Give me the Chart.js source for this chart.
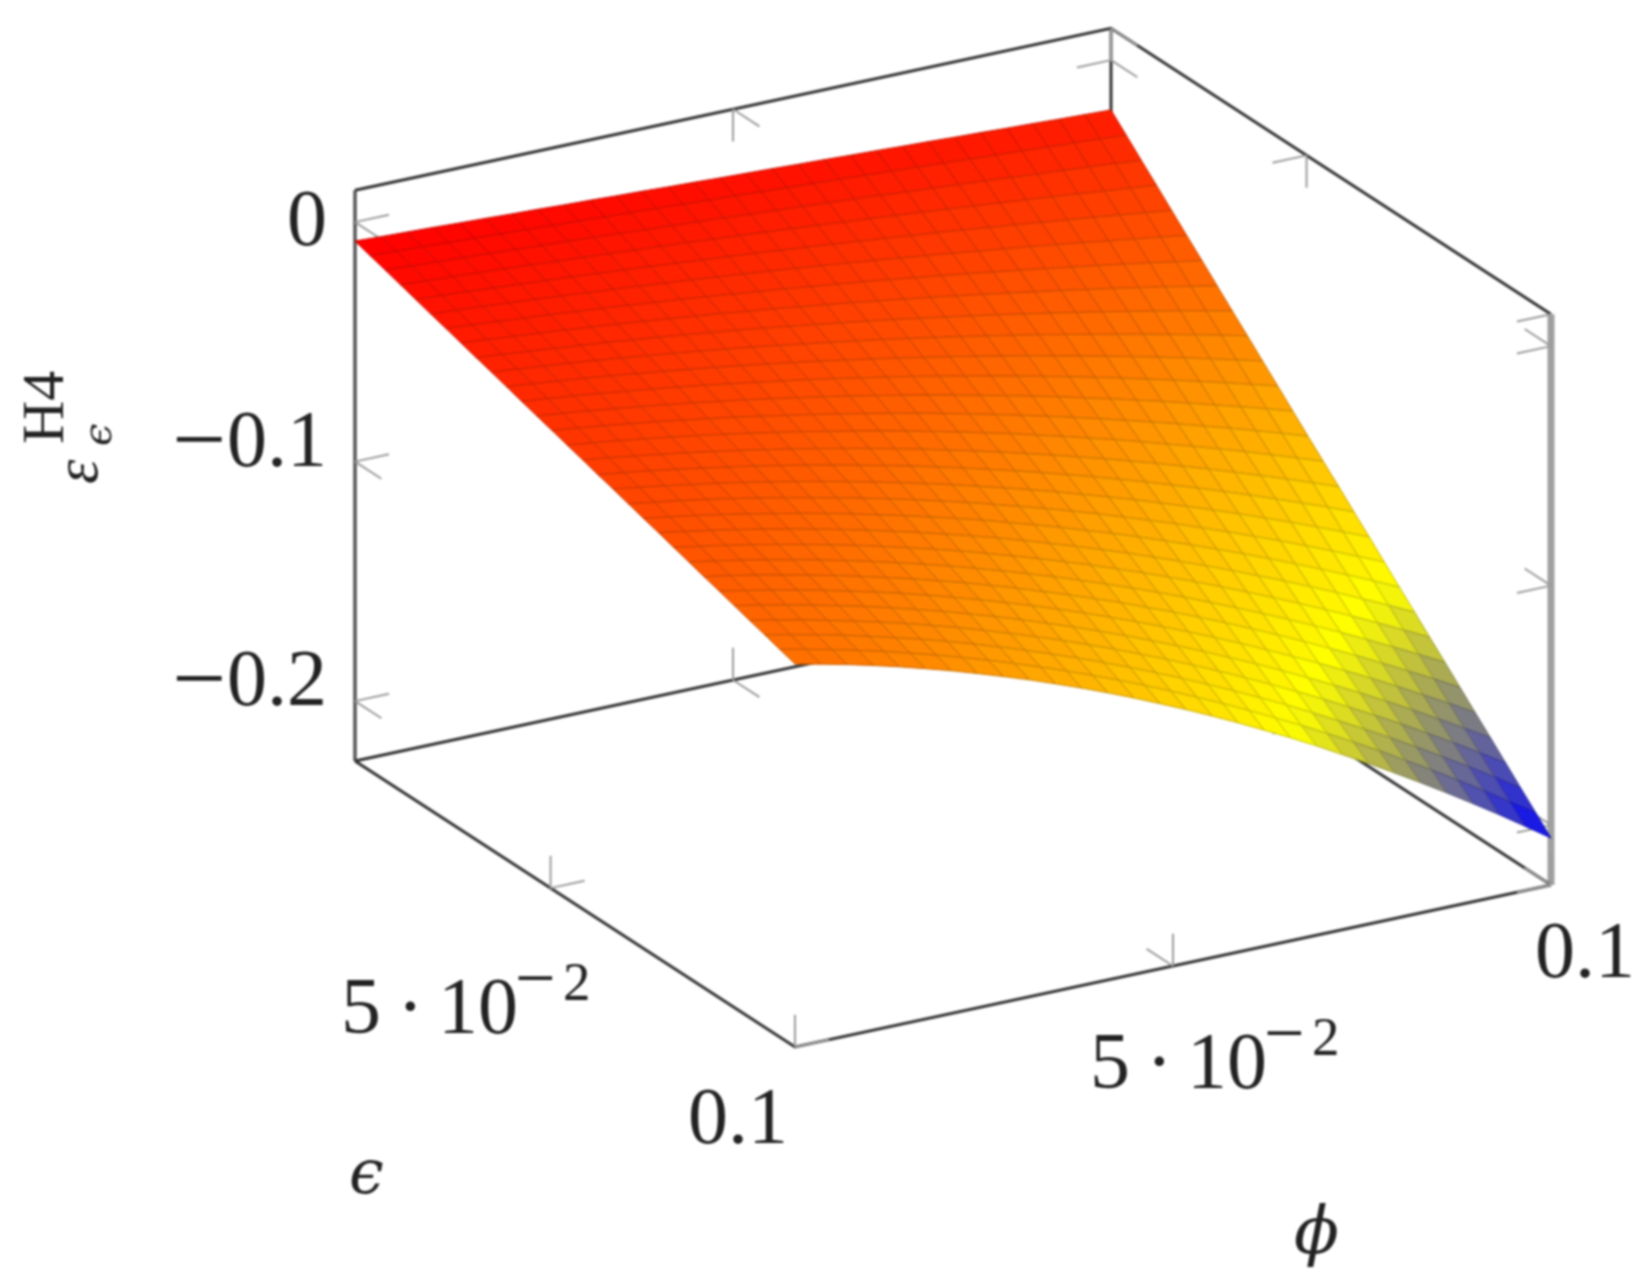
<!DOCTYPE html>
<html>
<head>
<meta charset="utf-8">
<title>H4 surface</title>
<script src="https://cdn.jsdelivr.net/npm/chart.js@4/dist/chart.umd.js"></script>
<style>
html, body { margin: 0; padding: 0; background: #fff; overflow: hidden; }
canvas { display: block; filter: blur(1.1px); }
</style>
</head>
<body>
<canvas id="surfaceChart" width="1640" height="1286"></canvas>
<script>
"use strict";
// sample positions, 30 per axis
const phiValues = [0, .00345, .0069, .01034, .01379, .01724, .02069, .02414, .02759, .03103, .03448, .03793, .04138, .04483, .04828,
    .05172, .05517, .05862, .06207, .06552, .06897, .07241, .07586, .07931, .08276, .08621, .08966, .0931, .09655, .1];
const epsValues = [.01, .0131, .0162, .0193, .0224, .0255, .0286, .0317, .0348, .0379, .041, .0441, .0472, .0503, .0534,
    .0566, .0597, .0628, .0659, .069, .0721, .0752, .0783, .0814, .0845, .0876, .0907, .0938, .0969, .1];
// surface height in units of 1e-4, one row per phi, one column per eps
const surfaceRows = [
    [-79,-99,-118,-138,-158,-178,-197,-217,-237,-256,-276,-296,-316,-335,-355,-375,-395,-414,-434,-454,-473,-493,-513,-533,-552,-572,-592,-611,-631,-651],
    [-84,-104,-124,-145,-165,-185,-206,-226,-247,-267,-287,-308,-328,-349,-369,-389,-410,-430,-451,-471,-491,-512,-532,-552,-573,-593,-614,-634,-654,-675],
    [-88,-109,-130,-151,-172,-193,-215,-236,-257,-278,-299,-320,-341,-362,-383,-405,-426,-447,-468,-489,-510,-531,-552,-573,-595,-616,-637,-658,-679,-700],
    [-92,-114,-136,-158,-180,-202,-224,-246,-268,-289,-311,-333,-355,-377,-399,-421,-443,-465,-486,-508,-530,-552,-574,-596,-618,-640,-662,-683,-705,-727],
    [-97,-120,-142,-165,-188,-210,-233,-256,-279,-301,-324,-347,-370,-392,-415,-438,-461,-483,-506,-529,-551,-574,-597,-620,-642,-665,-688,-711,-733,-756],
    [-101,-125,-149,-172,-196,-220,-243,-267,-290,-314,-338,-361,-385,-409,-432,-456,-480,-503,-527,-551,-574,-598,-621,-645,-669,-692,-716,-740,-763,-787],
    [-106,-130,-155,-180,-204,-229,-253,-278,-303,-327,-352,-376,-401,-426,-450,-475,-499,-524,-549,-573,-598,-622,-647,-672,-696,-721,-745,-770,-795,-819],
    [-110,-136,-161,-187,-213,-238,-264,-290,-315,-341,-367,-392,-418,-443,-469,-495,-520,-546,-572,-597,-623,-648,-674,-700,-725,-751,-777,-802,-828,-854],
    [-115,-141,-168,-195,-222,-248,-275,-302,-328,-355,-382,-409,-435,-462,-489,-516,-542,-569,-596,-622,-649,-676,-703,-729,-756,-783,-809,-836,-863,-890],
    [-119,-147,-175,-203,-231,-259,-286,-314,-342,-370,-398,-426,-454,-482,-509,-537,-565,-593,-621,-649,-677,-705,-732,-760,-788,-816,-844,-872,-900,-927],
    [-124,-153,-182,-211,-240,-269,-298,-327,-356,-385,-414,-444,-473,-502,-531,-560,-589,-618,-647,-676,-705,-734,-763,-792,-822,-851,-880,-909,-938,-967],
    [-128,-158,-189,-219,-250,-280,-310,-341,-371,-401,-432,-462,-492,-523,-553,-583,-614,-644,-674,-705,-735,-765,-796,-826,-857,-887,-917,-948,-978,-1008],
    [-133,-164,-196,-228,-259,-291,-323,-354,-386,-418,-449,-481,-513,-544,-576,-608,-639,-671,-703,-734,-766,-798,-830,-861,-893,-925,-956,-988,-1020,-1051],
    [-137,-170,-203,-236,-269,-302,-335,-369,-402,-435,-468,-501,-534,-567,-600,-633,-666,-699,-732,-765,-798,-832,-865,-898,-931,-964,-997,-1030,-1063,-1096],
    [-142,-176,-211,-245,-280,-314,-349,-383,-418,-452,-487,-521,-556,-590,-625,-660,-694,-729,-763,-798,-832,-867,-901,-936,-970,-1005,-1039,-1074,-1108,-1143],
    [-146,-182,-218,-254,-290,-326,-362,-398,-434,-470,-506,-542,-578,-614,-650,-687,-723,-759,-795,-831,-867,-903,-939,-975,-1011,-1047,-1083,-1119,-1155,-1191],
    [-150,-188,-226,-263,-301,-338,-376,-414,-451,-489,-527,-564,-602,-639,-677,-715,-752,-790,-827,-865,-903,-940,-978,-1015,-1053,-1091,-1128,-1166,-1204,-1241],
    [-155,-194,-233,-273,-312,-351,-390,-430,-469,-508,-547,-587,-626,-665,-704,-744,-783,-822,-861,-901,-940,-979,-1018,-1058,-1097,-1136,-1175,-1215,-1254,-1293],
    [-159,-200,-241,-282,-323,-364,-405,-446,-487,-528,-569,-610,-651,-692,-733,-774,-815,-856,-896,-937,-978,-1019,-1060,-1101,-1142,-1183,-1224,-1265,-1306,-1347],
    [-164,-207,-249,-292,-335,-377,-420,-463,-506,-548,-591,-634,-676,-719,-762,-805,-847,-890,-933,-975,-1018,-1061,-1103,-1146,-1189,-1232,-1274,-1317,-1360,-1402],
    [-168,-213,-257,-302,-346,-391,-435,-480,-524,-569,-613,-658,-702,-747,-792,-836,-881,-925,-970,-1014,-1059,-1103,-1148,-1192,-1237,-1281,-1326,-1370,-1415,-1459],
    [-173,-219,-266,-312,-358,-405,-451,-498,-544,-590,-637,-683,-730,-776,-822,-869,-915,-962,-1008,-1055,-1101,-1147,-1194,-1240,-1287,-1333,-1379,-1426,-1472,-1519],
    [-177,-226,-274,-322,-371,-419,-467,-516,-564,-612,-661,-709,-757,-806,-854,-902,-951,-999,-1048,-1096,-1144,-1193,-1241,-1289,-1338,-1386,-1434,-1483,-1531,-1579],
    [-182,-232,-282,-333,-383,-433,-484,-534,-584,-635,-685,-735,-786,-836,-887,-937,-987,-1038,-1088,-1138,-1189,-1239,-1289,-1340,-1390,-1440,-1491,-1541,-1591,-1642],
    [-186,-239,-291,-343,-396,-448,-501,-553,-605,-658,-710,-763,-815,-867,-920,-972,-1025,-1077,-1130,-1182,-1234,-1287,-1339,-1392,-1444,-1496,-1549,-1601,-1654,-1706],
    [-191,-245,-300,-354,-409,-463,-518,-572,-627,-681,-736,-790,-845,-900,-954,-1009,-1063,-1118,-1172,-1227,-1281,-1336,-1390,-1445,-1499,-1554,-1608,-1663,-1717,-1772],
    [-195,-252,-308,-365,-422,-479,-535,-592,-649,-705,-762,-819,-876,-932,-989,-1046,-1103,-1159,-1216,-1273,-1329,-1386,-1443,-1500,-1556,-1613,-1670,-1726,-1783,-1840],
    [-200,-258,-317,-376,-435,-494,-553,-612,-671,-730,-789,-848,-907,-966,-1025,-1084,-1143,-1202,-1261,-1320,-1379,-1438,-1497,-1556,-1615,-1674,-1732,-1791,-1850,-1909],
    [-204,-265,-326,-388,-449,-510,-572,-633,-694,-755,-817,-878,-939,-1000,-1062,-1123,-1184,-1246,-1307,-1368,-1429,-1491,-1552,-1613,-1674,-1736,-1797,-1858,-1920,-1981],
    [-208,-272,-336,-399,-463,-527,-590,-654,-718,-781,-845,-908,-972,-1036,-1099,-1163,-1227,-1290,-1354,-1418,-1481,-1545,-1608,-1672,-1736,-1799,-1863,-1927,-1990,-2054]
];
const phiTicks = [0.05, 0.1];
const epsTicks = [0.05, 0.1];
const zTicks = [0, -0.1, -0.2];
const phiRange = [0, 0.1];
const epsRange = [0.01, 0.1];
const zRange = [-0.225, 0.0133];

// pgfplots colormap/hot
const hotStops = [[0, 0, 255], [255, 255, 0], [255, 128, 0], [255, 0, 0]];

function project(phi, eps, z) {
    let t = (phi - phiRange[0]) / (phiRange[1] - phiRange[0]);
    let s = (eps - epsRange[0]) / (epsRange[1] - epsRange[0]);
    return {
        x: 355 + 756 * t + 440 * s,
        y: 761 - 162 * t + 286 * s - (z - zRange[0]) * 2395
    };
}

function hotColor(f) {
    let pos = Math.min(Math.max(f, 0), 1) * 3;
    let k = Math.min(Math.floor(pos), 2);
    let a = hotStops[k], b = hotStops[k + 1], w = pos - k;
    return a.map((c, i) => c + (b[i] - c) * w);
}

function rgb(c, factor) {
    return 'rgb(' + c.map(v => Math.round(v * factor)).join(',') + ')';
}

function lineDataset(points, color, width) {
    return {
        data: points,
        showLine: true,
        fill: false,
        borderColor: color,
        borderWidth: width,
        pointRadius: 0,
        tension: 0
    };
}

let painted = [];

// back lines of the box, these stay behind the surface
let zLo = zRange[0], zHi = zRange[1];
let phiLo = phiRange[0], phiHi = phiRange[1];
let epsLo = epsRange[0], epsHi = epsRange[1];
let boxDark = '#333';
painted.push(lineDataset([project(phiLo, epsLo, zLo), project(phiLo, epsLo, zHi)], '#555', 3.5));
painted.push(lineDataset([project(phiHi, epsLo, zLo), project(phiHi, epsLo, zHi)], boxDark, 3));
painted.push(lineDataset([project(phiHi, epsHi, zLo), project(phiHi, epsHi, zHi)], '#a0a0a0', 7));
painted.push(lineDataset([project(phiLo, epsLo, zHi), project(phiHi, epsLo, zHi), project(phiHi, epsHi, zHi)], boxDark, 3));
painted.push(lineDataset([project(phiLo, epsLo, zLo), project(phiHi, epsLo, zLo), project(phiHi, epsHi, zLo)], boxDark, 3));
painted.push(lineDataset([project(phiLo, epsLo, zLo), project(phiLo, epsHi, zLo), project(phiHi, epsHi, zLo)], boxDark, 3));

// tick marks, each one gets two short strokes into the box
let tickColor = '#9c9c9c';
let phiLen = 0.0045, epsLen = 0.0054, zLen = 0.0135;
function addTick(p, e, z, dp, de, dz) {
    painted.push(lineDataset([project(p, e, z), project(p + dp, e + de, z + dz)], tickColor, 2));
}
phiTicks.forEach(p => {
    addTick(p, epsLo, zHi, 0, epsLen, 0);
    addTick(p, epsLo, zHi, 0, 0, -zLen);
    addTick(p, epsLo, zLo, 0, epsLen, 0);
    addTick(p, epsLo, zLo, 0, 0, zLen);
    addTick(p, epsHi, zLo, 0, -epsLen, 0);
    addTick(p, epsHi, zLo, 0, 0, zLen);
});
epsTicks.forEach(e => {
    addTick(phiHi, e, zHi, -phiLen, 0, 0);
    addTick(phiHi, e, zHi, 0, 0, -zLen);
    addTick(phiLo, e, zLo, phiLen, 0, 0);
    addTick(phiLo, e, zLo, 0, 0, zLen);
    addTick(phiHi, e, zLo, -phiLen, 0, 0);
    addTick(phiHi, e, zLo, 0, 0, zLen);
});
zTicks.forEach(z => {
    addTick(phiLo, epsLo, z, phiLen, 0, 0);
    addTick(phiLo, epsLo, z, 0, epsLen, 0);
    addTick(phiHi, epsLo, z, -phiLen, 0, 0);
    addTick(phiHi, epsLo, z, 0, epsLen, 0);
    addTick(phiHi, epsHi, z, -phiLen, 0, 0);
    addTick(phiHi, epsHi, z, 0, -epsLen, 0);
});

// surface cells, far corner first
let allZ = surfaceRows.flat();
let metaMin = Math.min(...allZ), metaMax = Math.max(...allZ);
for (let e = 0; e < epsValues.length - 1; e++) {
    for (let p = phiValues.length - 2; p >= 0; p--) {
        let corners = [[p, e], [p + 1, e], [p + 1, e + 1], [p, e + 1], [p, e]];
        let points = corners.map(c => project(phiValues[c[0]], epsValues[c[1]], surfaceRows[c[0]][c[1]] * 1e-4));
        let mean = (surfaceRows[p][e] + surfaceRows[p + 1][e] + surfaceRows[p + 1][e + 1] + surfaceRows[p][e + 1]) / 4;
        let color = hotColor((mean - metaMin) / (metaMax - metaMin));
        painted.push({
            data: points,
            showLine: true,
            fill: 'shape',
            backgroundColor: rgb(color, 1),
            borderColor: rgb(color, 0.78),
            borderWidth: 1,
            pointRadius: 0,
            tension: 0
        });
    }
}

const SERIF = '"Liberation Serif", serif';
const MATH = '"DejaVu Serif", serif';

// text that is not available through a visible axis
const labelPlugin = {
    id: 'labelPlugin',
    afterDatasetsDraw(chart) {
        let ctx = chart.ctx;
        let sx = chart.scales.x, sy = chart.scales.y;
        function put(text, x, y, font, align) {
            ctx.font = font;
            ctx.textAlign = align || 'left';
            ctx.textBaseline = 'alphabetic';
            ctx.fillStyle = '#222';
            ctx.fillText(text, sx.getPixelForValue(x), sy.getPixelForValue(y));
        }
        function power(x, y) {
            put('5', x, y, '80px ' + SERIF);
            put('\u00b7', x + 56, y, '80px ' + SERIF);
            put('10', x + 97, y, '80px ' + SERIF);
            put('\u2212', x + 174, y - 31, '72px ' + SERIF);
            put('2', x + 222, y - 33, '55px ' + SERIF);
        }
        put('0', 327, 245, '80px ' + SERIF, 'right');
        put('\u2212', 172, 471, '96px ' + SERIF);
        put('0.1', 327, 466, '80px ' + SERIF, 'right');
        put('\u2212', 172, 710, '96px ' + SERIF);
        put('0.2', 327, 705, '80px ' + SERIF, 'right');
        power(341, 1033);
        power(1090, 1088);
        put('0.1', 788, 1143, '80px ' + SERIF, 'right');
        put('0.1', 1635, 977, '80px ' + SERIF, 'right');
        put('\u03f5', 349, 1193, 'italic 62px ' + MATH);
        put('\u03d5', 1294, 1253, 'italic 66px ' + MATH);

        // rotated z label
        ctx.save();
        ctx.translate(sx.getPixelForValue(97), sy.getPixelForValue(484));
        ctx.rotate(-Math.PI / 2);
        ctx.fillStyle = '#222';
        ctx.textAlign = 'left';
        ctx.textBaseline = 'alphabetic';
        ctx.font = 'italic 62px ' + SERIF;
        ctx.fillText('\u03b5', 0, 0);
        ctx.font = '60px ' + SERIF;
        ctx.fillText('H4', 40, -34);
        ctx.font = 'italic 40px ' + MATH;
        ctx.fillText('\u03f5', 38, 14);
        ctx.restore();
    }
};

document.addEventListener("DOMContentLoaded", function () {
    let canvas = document.getElementById('surfaceChart');
    let ctx = canvas.getContext('2d');
    new Chart(ctx, {
        type: 'scatter',
        data: { datasets: painted.slice().reverse() },
        options: {
            responsive: false,
            animation: false,
            devicePixelRatio: 1,
            layout: { padding: 0 },
            scales: {
                x: { type: 'linear', display: false, min: 0, max: 1640 },
                y: { type: 'linear', display: false, min: 0, max: 1286, reverse: true }
            },
            plugins: {
                legend: { display: false },
                tooltip: { enabled: false },
                title: { display: false }
            }
        },
        plugins: [labelPlugin]
    });
});
</script>
</body>
</html>
